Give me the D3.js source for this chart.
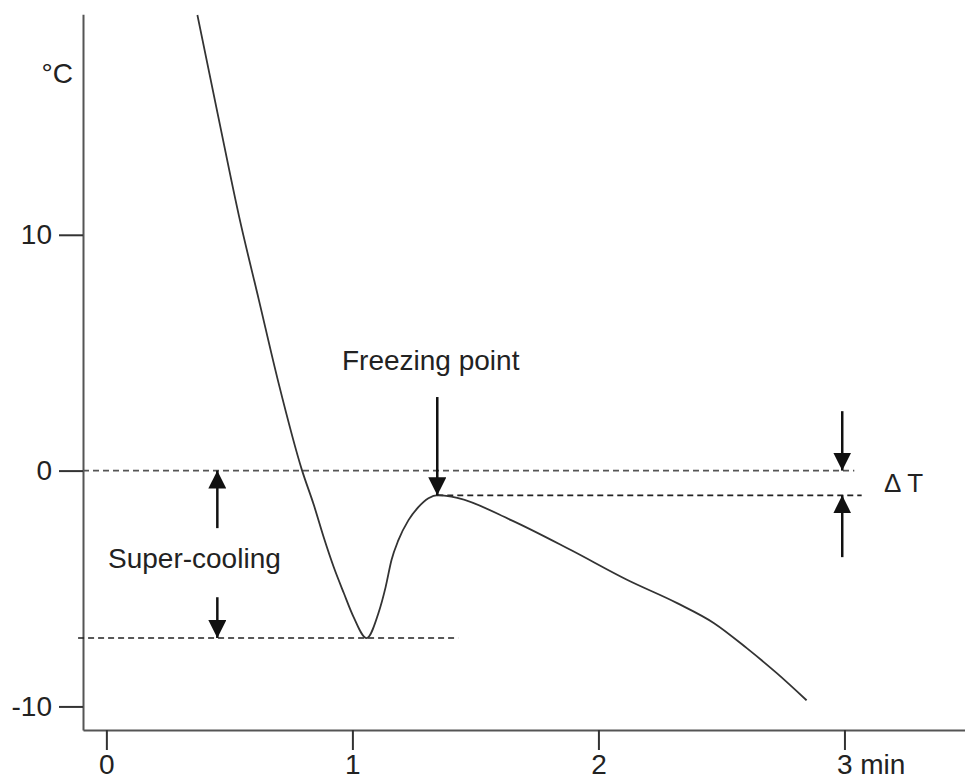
<!DOCTYPE html>
<html>
<head>
<meta charset="utf-8">
<script src="https://cdn.jsdelivr.net/npm/d3@7"></script>
<style>
  body { margin: 0; background: #fff; }
  text { font-family: "Liberation Sans", Arial, sans-serif; fill: #222; }
</style>
</head>
<body>
<div id="chart"></div>
<script>
// Cooling curve (time in min, temperature in °C)
var time = [0.37, 0.455, 0.54, 0.62, 0.70, 0.795, 0.843, 0.884, 0.924, 0.965, 1.005, 1.058, 1.106, 1.135, 1.159, 1.187, 1.228, 1.268, 1.309, 1.349, 1.43, 1.645, 1.888, 2.118, 2.32, 2.47, 2.603, 2.725, 2.846];
var temp = [19.32, 15.0, 10.75, 7.23, 3.71, 0.02, -1.45, -2.85, -4.09, -5.19, -6.21, -7.10, -6.04, -4.94, -3.79, -2.95, -2.10, -1.55, -1.17, -1.04, -1.17, -2.10, -3.37, -4.64, -5.62, -6.47, -7.53, -8.59, -9.74];

var xTicks = [0, 1, 2, 3];
var yTicks = [-10, 0, 10];

// reference levels
var freezingTemp = -1.05;
var minTemp = -7.1;
var freezingTime = 1.345;

var svgWidth = 965;
var svgHeight = 780;

var svg = d3.select("#chart").append("svg").attr("width", svgWidth).attr("height", svgHeight);

var x = d3.scaleLinear().domain([-0.095, 3.49]).range([83, 965]);
var y = d3.scaleLinear().domain([-11, 19.35]).range([730, 14.3]);

// axes
var xAxis = d3.axisBottom(x)
    .tickValues(xTicks)
    .tickSizeInner(20)
    .tickSizeOuter(0)
    .tickPadding(4)
    .tickFormat(d => d === 3 ? "3 min" : String(d));

var yAxis = d3.axisLeft(y)
    .tickValues(yTicks)
    .tickSizeInner(24)
    .tickSizeOuter(0)
    .tickPadding(7)
    .tickFormat(d => String(d));

var gx = svg.append("g")
    .attr("transform", `translate(0, ${y.range()[0]})`)
    .call(xAxis);

var gy = svg.append("g")
    .attr("transform", `translate(${x.range()[0]}, 0)`)
    .call(yAxis);

[gx, gy].forEach(function(g) {
    g.select(".domain").attr("stroke", "#555").attr("stroke-width", 2);
    g.selectAll(".tick line").attr("stroke", "#333").attr("stroke-width", 2);
    g.selectAll(".tick text")
        .style("font-family", "'Liberation Sans', Arial, sans-serif")
        .style("font-size", "28px")
        .attr("fill", "#222");
});

gx.selectAll(".tick text")
    .filter(d => d === 3)
    .attr("text-anchor", "start")
    .attr("dx", -8);

svg.append("text")
    .attr("x", 73)
    .attr("y", 83)
    .attr("text-anchor", "end")
    .style("font-size", "28px")
    .text("°C");

// dashed reference lines
var dashes = [
    { x0: -0.095, x1: 3.04, t: 0, color: "#555" },
    { x0: freezingTime, x1: 3.07, t: freezingTemp, color: "#222" },
    { x0: -0.115, x1: 1.43, t: minTemp, color: "#222" }
];

svg.selectAll(".ref")
    .data(dashes)
    .enter()
    .append("line")
    .attr("class", "ref")
    .attr("x1", d => x(d.x0))
    .attr("x2", d => x(d.x1))
    .attr("y1", d => y(d.t))
    .attr("y2", d => y(d.t))
    .attr("stroke", d => d.color)
    .attr("stroke-width", 1.6)
    .attr("stroke-dasharray", "6,4");

// the cooling curve
var points = time.map((t, i) => [t, temp[i]]);

var line = d3.line()
    .x(d => x(d[0]))
    .y(d => y(d[1]))
    .curve(d3.curveMonotoneX);

svg.append("path")
    .datum(points)
    .attr("d", line)
    .attr("fill", "none")
    .attr("stroke", "#333")
    .attr("stroke-width", 1.8);

// arrows
svg.append("defs").append("marker")
    .attr("id", "head")
    .attr("viewBox", "0 0 18 18")
    .attr("refX", 18)
    .attr("refY", 9)
    .attr("markerWidth", 18)
    .attr("markerHeight", 18)
    .attr("markerUnits", "userSpaceOnUse")
    .attr("orient", "auto")
    .append("path")
    .attr("d", "M0,0 L18,9 L0,18 Z")
    .attr("fill", "#111");

var arrows = [
    { t: 0.451, from: -2.44, to: 0 },
    { t: 0.451, from: -5.37, to: minTemp },
    { t: freezingTime, from: 3.12, to: freezingTemp },
    { t: 2.991, from: 2.52, to: 0 },
    { t: 2.991, from: -3.67, to: freezingTemp }
];

svg.selectAll(".arrow")
    .data(arrows)
    .enter()
    .append("line")
    .attr("class", "arrow")
    .attr("x1", d => x(d.t))
    .attr("x2", d => x(d.t))
    .attr("y1", d => y(d.from))
    .attr("y2", d => y(d.to))
    .attr("stroke", "#111")
    .attr("stroke-width", 2.5)
    .attr("marker-end", "url(#head)");

// labels
svg.append("text")
    .attr("x", 108)
    .attr("y", 568)
    .style("font-size", "28px")
    .text("Super-cooling");

svg.append("text")
    .attr("x", 342)
    .attr("y", 370)
    .style("font-size", "28px")
    .text("Freezing point");

svg.append("text")
    .attr("x", 884)
    .attr("y", 492)
    .style("font-size", "26px")
    .text("Δ T");
</script>
</body>
</html>
